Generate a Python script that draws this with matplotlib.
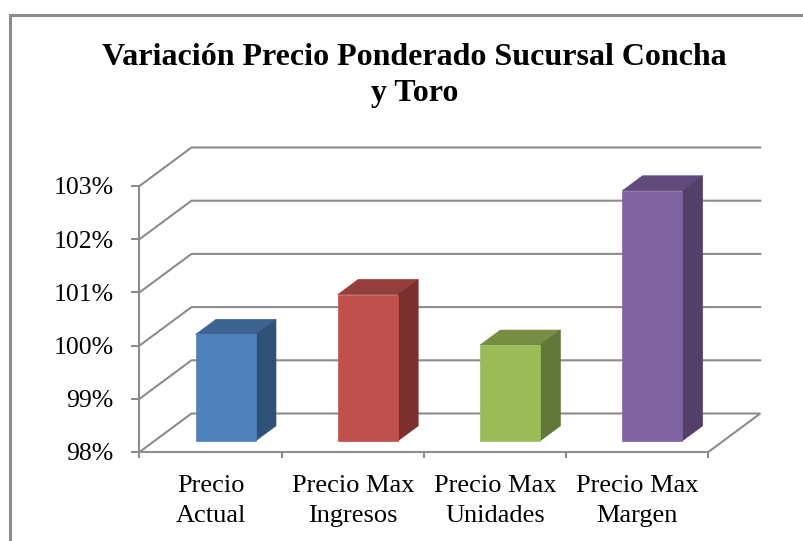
import numpy as np
import matplotlib.pyplot as plt
from matplotlib.lines import Line2D
from matplotlib.patches import Polygon

plt.rcParams['font.family'] = ['Liberation Serif', 'DejaVu Serif']

title = "Variación Precio Ponderado Sucursal Concha\ny Toro"
categories = ["Precio\nActual", "Precio Max\nIngresos", "Precio Max\nUnidades", "Precio Max\nMargen"]
values = [100.0, 100.75, 99.8, 102.7]
y_ticks = [98, 99, 100, 101, 102, 103]
y_tick_labels = ["98%", "99%", "100%", "101%", "102%", "103%"]

front_colors = ["#4F81BD", "#C0504D", "#9BBB59", "#8064A2"]
top_colors = ["#3D6391", "#953F3C", "#758E43", "#614B7C"]
side_colors = ["#2F5177", "#7C302E", "#62763A", "#533F69"]

W, H = 804, 541
GRID = "#8C8C8C"

# pixel scale of the plot box
CAT_PX = 142.2
PCT_PX = 53.2
# depth of the 3D box, in data units
DX = 52 / CAT_PX
DY = 38.5 / PCT_PX
# bar placement inside the box
BAR_W = 60 / CAT_PX
BAR_DEPTH = 0.39
BAR_OFFSET = 0.29

fig = plt.figure(figsize=(W / 100, H / 100), dpi=100)
ax = fig.add_axes([139.5 / W, 1 - 452 / H, (4 * CAT_PX + 52) / W, (452 - 147.5) / H])
ax.set_xlim(0, 4 + DX)
ax.set_ylim(98, 103 + DY)
ax.patch.set_alpha(0)

# gridlines run along the side wall and then along the back wall
for v in y_ticks[1:]:
    ax.plot([0, DX, 4 + DX], [v, v + DY, v + DY], color=GRID, lw=1.5, clip_on=False,
            solid_joinstyle='miter', zorder=1)
ax.plot([0, DX, 4 + DX, 4], [98, 98 + DY, 98 + DY, 98], color=GRID, lw=1.5, clip_on=False,
        solid_joinstyle='miter', zorder=1)

# bars: front, top and side faces
for i, v in enumerate(values):
    x0 = i + 0.5 - BAR_W / 2 + BAR_OFFSET * DX
    x1 = x0 + BAR_W
    y0 = 98 + BAR_OFFSET * DY
    y1 = v + BAR_OFFSET * DY
    ox = BAR_DEPTH * DX
    oy = BAR_DEPTH * DY
    ax.add_patch(Polygon([(x0, y1), (x1, y1), (x1 + ox, y1 + oy), (x0 + ox, y1 + oy)],
                         fc=top_colors[i], ec=top_colors[i], lw=0.5, zorder=3))
    ax.add_patch(Polygon([(x1, y0), (x1 + ox, y0 + oy), (x1 + ox, y1 + oy), (x1, y1)],
                         fc=side_colors[i], ec=side_colors[i], lw=0.5, zorder=3))
    ax.add_patch(Polygon([(x0, y0), (x1, y0), (x1, y1), (x0, y1)],
                         fc=front_colors[i], ec=front_colors[i], lw=0.5, zorder=4))

for name in ['top', 'right']:
    ax.spines[name].set_visible(False)
ax.spines['left'].set_bounds(98, 103)
ax.spines['bottom'].set_bounds(0, 4)
for name in ['left', 'bottom']:
    ax.spines[name].set_color(GRID)
    ax.spines[name].set_linewidth(1.5)
    ax.spines[name].set_zorder(2)

ax.set_yticks(y_ticks)
ax.set_yticklabels(y_tick_labels, fontsize=18.5, color="black")
ax.tick_params(axis='y', length=5.8, width=1.5, color=GRID, pad=13)
ax.set_xticks(range(5))
ax.set_xticklabels([])
ax.tick_params(axis='x', which='major', length=4.5, width=1.5, color=GRID)
ax.set_xticks(np.arange(4) + 0.5, minor=True)
ax.set_xticklabels(categories, minor=True, fontsize=19, linespacing=1.45)
ax.tick_params(axis='x', which='minor', length=0, pad=16.5)

fig.text(414.5 / W, 1 - 75.5 / H, title, ha='center', va='center', fontsize=23,
         fontweight='bold', linespacing=1.3)

# chart area border, cut off by the image edges
border = dict(color="#8C8C8C", lw=2.2, transform=fig.transFigure)
fig.add_artist(Line2D([10 / W, 10 / W], [0, 1 - 14.5 / H], **border))
fig.add_artist(Line2D([10 / W, 1], [1 - 14.5 / H, 1 - 14.5 / H], **border))

fig.savefig("out.png", dpi=100)
